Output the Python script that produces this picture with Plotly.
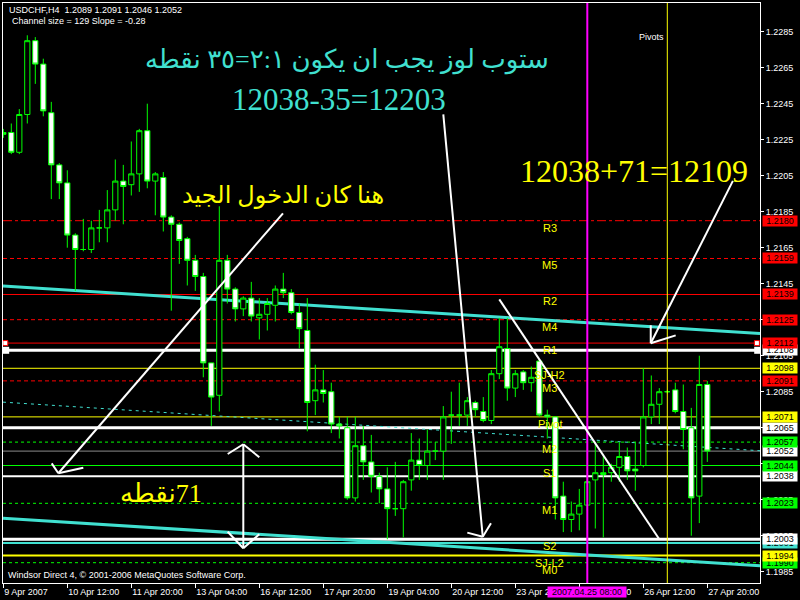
import plotly.graph_objects as go

# --- DATA: USDCHF H4 candles, bar 0 = 9 Apr 2007 04:00, one bar every 4 hours ---
opens = [1.2229, 1.2229, 1.2218, 1.2239, 1.2280, 1.2267, 1.2240, 1.2211, 1.2201, 1.2172,
         1.2164, 1.2164, 1.2176, 1.2176, 1.2186, 1.2202, 1.2200, 1.2206, 1.2230, 1.2202,
         1.2204, 1.2182, 1.2178, 1.2170, 1.2158, 1.2149, 1.2101, 1.2083, 1.2158, 1.2142,
         1.2131, 1.2137, 1.2126, 1.2128, 1.2133, 1.2142, 1.2140, 1.2129, 1.2119, 1.2080,
         1.2086, 1.2085, 1.2067, 1.2065, 1.2026, 1.2055, 1.2046, 1.2038, 1.2031, 1.2020,
         1.2020, 1.2036, 1.2047, 1.2044, 1.2052, 1.2052, 1.2072, 1.2072, 1.2072, 1.2079,
         1.2074, 1.2069, 1.2095, 1.2109, 1.2087, 1.2096, 1.2090, 1.2102, 1.2072, 1.2071,
         1.2027, 1.2014, 1.2017, 1.2022, 1.2036, 1.2039, 1.2040, 1.2043, 1.2049, 1.2042,
         1.2044, 1.2071, 1.2078, 1.2085, 1.2086, 1.2074, 1.2065, 1.2027, 1.2089]
highs = [1.2231, 1.2234, 1.2242, 1.2283, 1.2282, 1.2270, 1.2246, 1.2212, 1.2208, 1.2173,
         1.2181, 1.2180, 1.2186, 1.2197, 1.2214, 1.2211, 1.2224, 1.2231, 1.2245, 1.2207,
         1.2207, 1.2183, 1.2179, 1.2171, 1.2161, 1.2151, 1.2101, 1.2188, 1.2161, 1.2143,
         1.2138, 1.2146, 1.2137, 1.2137, 1.2144, 1.2151, 1.2142, 1.2134, 1.2137, 1.2100,
         1.2097, 1.2090, 1.2071, 1.2071, 1.2071, 1.2066, 1.2061, 1.2040, 1.2043, 1.2046,
         1.2036, 1.2062, 1.2059, 1.2064, 1.2057, 1.2077, 1.2085, 1.2090, 1.2082, 1.2080,
         1.2082, 1.2097, 1.2126, 1.2126, 1.2097, 1.2097, 1.2099, 1.2103, 1.2075, 1.2071,
         1.2035, 1.2024, 1.2031, 1.2036, 1.2057, 1.2050, 1.2045, 1.2057, 1.2054, 1.2057,
         1.2098, 1.2094, 1.2087, 1.2086, 1.2090, 1.2089, 1.2076, 1.2105, 1.2091]
lows = [1.2226, 1.2217, 1.2217, 1.2234, 1.2256, 1.2238, 1.2192, 1.2192, 1.2165, 1.2141,
        1.2163, 1.2162, 1.2168, 1.2168, 1.2180, 1.2178, 1.2194, 1.2196, 1.2198, 1.2183,
        1.2174, 1.2130, 1.2156, 1.2144, 1.2141, 1.2093, 1.2066, 1.2074, 1.2134, 1.2124,
        1.2127, 1.2124, 1.2114, 1.2119, 1.2124, 1.2137, 1.2128, 1.2109, 1.2063, 1.2072,
        1.2079, 1.2062, 1.2059, 1.2025, 1.2024, 1.2036, 1.2029, 1.2023, 1.2003, 1.2016,
        1.2004, 1.2030, 1.2036, 1.2036, 1.2047, 1.2036, 1.2056, 1.2066, 1.2066, 1.2071,
        1.2068, 1.2067, 1.2092, 1.2080, 1.2082, 1.2086, 1.2085, 1.2071, 1.2059, 1.2014,
        1.2007, 1.2007, 1.2008, 1.2019, 1.2009, 1.2004, 1.2035, 1.2035, 1.2036, 1.2030,
        1.2043, 1.2067, 1.2067, 1.2084, 1.2073, 1.2053, 1.2005, 1.2012, 1.2046]
closes = [1.2228, 1.2218, 1.2239, 1.2280, 1.2267, 1.2241, 1.2211, 1.2201, 1.2172, 1.2164,
          1.2164, 1.2176, 1.2176, 1.2186, 1.2202, 1.2199, 1.2206, 1.2230, 1.2202, 1.2206,
          1.2182, 1.2178, 1.2169, 1.2158, 1.2149, 1.2101, 1.2082, 1.2158, 1.2142, 1.2131,
          1.2137, 1.2127, 1.2128, 1.2134, 1.2142, 1.2140, 1.2129, 1.2120, 1.2079, 1.2086,
          1.2084, 1.2067, 1.2066, 1.2026, 1.2055, 1.2046, 1.2038, 1.2031, 1.2020, 1.2020,
          1.2035, 1.2047, 1.2044, 1.2052, 1.2052, 1.2071, 1.2072, 1.2072, 1.2080, 1.2075,
          1.2069, 1.2095, 1.2110, 1.2087, 1.2095, 1.2090, 1.2093, 1.2072, 1.2071, 1.2026,
          1.2014, 1.2017, 1.2022, 1.2035, 1.2040, 1.2040, 1.2043, 1.2049, 1.2041, 1.2041,
          1.2071, 1.2078, 1.2085, 1.2085, 1.2074, 1.2064, 1.2026, 1.2089, 1.2052]
bars = list(range(len(closes)))

# time axis labels (every 8 bars)
time_ticks = [0, 8, 16, 24, 32, 40, 48, 56, 64, 72, 80, 88]
time_labels = ["9 Apr 2007", "10 Apr 12:00", "11 Apr 20:00", "13 Apr 04:00", "16 Apr 12:00",
               "17 Apr 20:00", "19 Apr 04:00", "20 Apr 12:00", "23 Apr 20:00", "25 Apr 04:00",
               "26 Apr 12:00", "27 Apr 20:00"]
price_ticks = [1.1985, 1.2005, 1.2025, 1.2045, 1.2065, 1.2085, 1.2105, 1.2125, 1.2145,
               1.2165, 1.2185, 1.2205, 1.2225, 1.2245, 1.2265, 1.2285]

# horizontal levels (pivots + hand drawn lines)
level_prices = [1.2180, 1.2159, 1.2139, 1.2125, 1.2112, 1.2108, 1.2098, 1.2091, 1.2071, 1.2065,
                1.2057, 1.2052, 1.2044, 1.2038, 1.2023, 1.2003, 1.2001, 1.1994, 1.1990]
pivot_names = ["R3", "M5", "R2", "M4", "R1", "SJ-H2", "M3", "Pivot", "M2", "S1", "M1", "S2", "SJ-L2", "M0"]
pivot_prices = [1.2180, 1.2159, 1.2139, 1.2125, 1.2112, 1.2098, 1.2091, 1.2071, 1.2057, 1.2044,
                1.2023, 1.2003, 1.1994, 1.1990]

# regression channel (ends at the left and right edge of the window)
channel_x = [-0.04, 94.59]
channel_upper = [1.21437, 1.21173]
channel_mid = [1.20792, 1.20522]
channel_lower = [1.20147, 1.19883]

# vertical lines
magenta_bar = 73
yellow_bar = 83

# drawn arrows: tail, tip, two barbs (bar index, price)
arrows = [
    ((34.96, 1.21841), (6.88, 1.20397), [(6.05, 1.20452), (10.0, 1.20428)]),
    ((55.0, 1.22391), (59.93, 1.20044), [(58.0, 1.20067), (60.96, 1.20119)]),
    ((91.2, 1.22021), (80.93, 1.21119), [(80.93, 1.21219), (84.05, 1.21163)]),
]
double_arrow = ((30.0, 1.20558), (30.0, 1.19980),
                [(28.05, 1.20504), (32.0, 1.20486)], [(28.05, 1.20072), (32.0, 1.20058)])
trend_line = [(62.0, 1.21363), (82.0, 1.20030)]

# --- STYLE ---
RED, YEL, LIME, WHITE, TURQ, GRAY = "#ff0000", "#ffff00", "#00ff00", "#ffffff", "#40e0d0", "#8c8c8c"
level_colors = [RED, RED, RED, RED, RED, WHITE, YEL, RED, YEL, WHITE,
                LIME, GRAY, LIME, WHITE, LIME, WHITE, TURQ, YEL, LIME]
level_widths = [1, 1, 1, 1, 1, 3, 1, 1, 1, 3, 1, 1, 1, 2, 1, 3, 2, 2, 1]
level_dashes = ["9px,3px,3px,3px", "4px,3px", "solid", "4px,3px", "solid", "solid", "solid",
                "4px,3px", "solid", "solid", "3px,3px", "solid", "solid", "solid", "3px,3px",
                "solid", "solid", "solid", "3px,3px"]

# plot area of the MT4 window in pixels
L, R, T, B = 3, 760, 3, 583
x_range = [-0.0375, 94.5875]
y_range = [1.197872, 1.230094]


def px(x):
    return (x - L) / (R - L)


def py(y):
    return (B - y) / (B - T)


fig = go.Figure()

fig.add_trace(go.Candlestick(
    x=bars, open=opens, high=highs, low=lows, close=closes,
    increasing=dict(line=dict(color=LIME, width=1), fillcolor="black"),
    decreasing=dict(line=dict(color=LIME, width=1), fillcolor="white"),
    whiskerwidth=0, hoverinfo="skip", showlegend=False,
))

# selection handles on the 1.2108 / 1.2112 lines
fig.add_trace(go.Scatter(x=[0.3, 94.3], y=[level_prices[5]] * 2, mode="markers",
                         marker=dict(symbol="square", size=7, color=WHITE), hoverinfo="skip"))
fig.add_trace(go.Scatter(x=[0.25, 94.2], y=[level_prices[4]] * 2, mode="markers",
                         marker=dict(symbol="square", size=5, color=WHITE, line=dict(color=RED, width=1)),
                         hoverinfo="skip"))

shapes = []
for p, c, w, d in zip(level_prices, level_colors, level_widths, level_dashes):
    shapes.append(dict(type="line", xref="paper", x0=0, x1=1, yref="y", y0=p, y1=p,
                       line=dict(color=c, width=w, dash=d), layer="below"))

shapes.append(dict(type="line", xref="x", yref="y", x0=channel_x[0], x1=channel_x[1],
                   y0=channel_mid[0], y1=channel_mid[1], line=dict(color=TURQ, width=1, dash="3px,4px"), layer="below"))
for ys in (channel_upper, channel_lower):
    shapes.append(dict(type="line", xref="x", yref="y", x0=channel_x[0], x1=channel_x[1],
                       y0=ys[0], y1=ys[1], line=dict(color=TURQ, width=3), layer="below"))

shapes.append(dict(type="line", xref="x", yref="paper", x0=magenta_bar, x1=magenta_bar, y0=0, y1=1,
                   line=dict(color="#ff00ff", width=2)))
shapes.append(dict(type="line", xref="x", yref="paper", x0=yellow_bar, x1=yellow_bar, y0=0, y1=1,
                   line=dict(color=YEL, width=1)))


def seg(a, b):
    return dict(type="line", xref="x", yref="y", x0=a[0], y0=a[1], x1=b[0], y1=b[1],
                line=dict(color=WHITE, width=2))


for tail, tip, barbs in arrows:
    shapes.append(seg(tail, tip))
    for b in barbs:
        shapes.append(seg(b, tip))
top, bottom, top_barbs, bottom_barbs = double_arrow
shapes.append(seg(top, bottom))
for b in top_barbs:
    shapes.append(seg(b, top))
for b in bottom_barbs:
    shapes.append(seg(b, bottom))
shapes.append(seg(trend_line[0], trend_line[1]))

ann = []
SMALL = dict(family="Liberation Sans, DejaVu Sans", size=9, color=WHITE)

# pivot names
for name, p in zip(pivot_names, pivot_prices):
    ann.append(dict(x=68.3, y=p, xref="x", yref="y", text=name, showarrow=False,
                    xanchor="center", yanchor="top", yshift=1,
                    font=dict(family="Liberation Sans, DejaVu Sans", size=11, color=YEL)))

# price boxes on the right scale (higher price on top)
box_bg = {RED: RED, WHITE: WHITE, YEL: YEL, LIME: LIME, GRAY: WHITE, TURQ: TURQ}
order = sorted(range(len(level_prices)), key=lambda i: level_prices[i])
for i in order:
    p = level_prices[i]
    ann.append(dict(x=1, xref="paper", xanchor="left", xshift=2, y=p, yref="y", yanchor="middle",
                    text=f"{p:.4f}", showarrow=False, bgcolor=box_bg[level_colors[i]],
                    width=34, height=10, borderpad=0,
                    font=dict(family="Liberation Sans, DejaVu Sans", size=9, color="black")))

# magenta time label
ann.append(dict(x=magenta_bar, xref="x", y=0, yref="paper", yanchor="top", yshift=-3,
                text="2007.04.25 08:00", showarrow=False, bgcolor="#ff00ff", width=78, height=10,
                borderpad=0, font=dict(family="Liberation Sans, DejaVu Sans", size=9, color="black")))

# header / footer
ann.append(dict(x=px(7), y=py(10), xref="paper", yref="paper", xanchor="left", yanchor="middle",
                text="USDCHF,H4\u00a0 1.2089 1.2091 1.2046 1.2052", showarrow=False, font=SMALL))
ann.append(dict(x=px(10), y=py(21), xref="paper", yref="paper", xanchor="left", yanchor="middle",
                text="Channel size = 129 Slope = -0.28", showarrow=False, font=SMALL))
ann.append(dict(x=px(6), y=py(575), xref="paper", yref="paper", xanchor="left", yanchor="middle",
                text="Windsor Direct 4, © 2001-2006 MetaQuotes Software Corp.", showarrow=False, font=SMALL))
ann.append(dict(x=px(651), y=py(37), xref="paper", yref="paper", xanchor="center", yanchor="middle",
                text="Pivots", showarrow=False, font=SMALL))

# hand written notes
SERIF = "Liberation Serif, DejaVu Sans"
ann.append(dict(x=px(347), y=py(60), xref="paper", yref="paper", xanchor="center", yanchor="middle",
                text="ستوب لوز يجب ان يكون ٢:١=٣٥ نقطه", showarrow=False,
                font=dict(family=SERIF, size=26, color=TURQ)))
ann.append(dict(x=px(339), y=py(99), xref="paper", yref="paper", xanchor="center", yanchor="middle",
                text="12038-35=12203", showarrow=False, font=dict(family=SERIF, size=31, color=TURQ)))
ann.append(dict(x=px(283), y=py(195), xref="paper", yref="paper", xanchor="center", yanchor="middle",
                text="هنا كان الدخول الجيد", showarrow=False, font=dict(family=SERIF, size=24, color=YEL)))
ann.append(dict(x=px(518), y=py(171), xref="paper", yref="paper", xanchor="left", yanchor="middle",
                text="12038+71=12109", showarrow=False, font=dict(family=SERIF, size=32, color=YEL)))
ann.append(dict(x=px(161), y=py(493), xref="paper", yref="paper", xanchor="center", yanchor="middle",
                text="\u200f71نقطه", showarrow=False, font=dict(family=SERIF, size=26, color=YEL)))

fig.update_layout(
    width=800, height=600,
    margin=dict(l=L, r=800 - R, t=T, b=600 - B),
    paper_bgcolor="black", plot_bgcolor="black",
    showlegend=False, boxgap=0.35, boxgroupgap=0,
    shapes=shapes, annotations=ann,
    xaxis=dict(range=x_range, showgrid=False, zeroline=False, showline=True, linecolor=WHITE,
               mirror=True, ticks="outside", ticklen=4, tickcolor=WHITE,
               tickvals=time_ticks, ticktext=time_labels, ticklabelposition="outside right",
               tickfont=SMALL, rangeslider=dict(visible=False)),
    yaxis=dict(range=y_range, side="right", showgrid=False, zeroline=False, showline=True,
               linecolor=WHITE, mirror=True, ticks="outside", ticklen=3, tickcolor=WHITE,
               tickvals=price_ticks, ticktext=[f"{v:.4f}" for v in price_ticks], tickfont=SMALL),
)

# the page body has a default margin; drop it so the chart sits at the window's corner
fig.write_html("out.html", config={"displayModeBar": False},
               post_script="document.body.style.margin='0';")
